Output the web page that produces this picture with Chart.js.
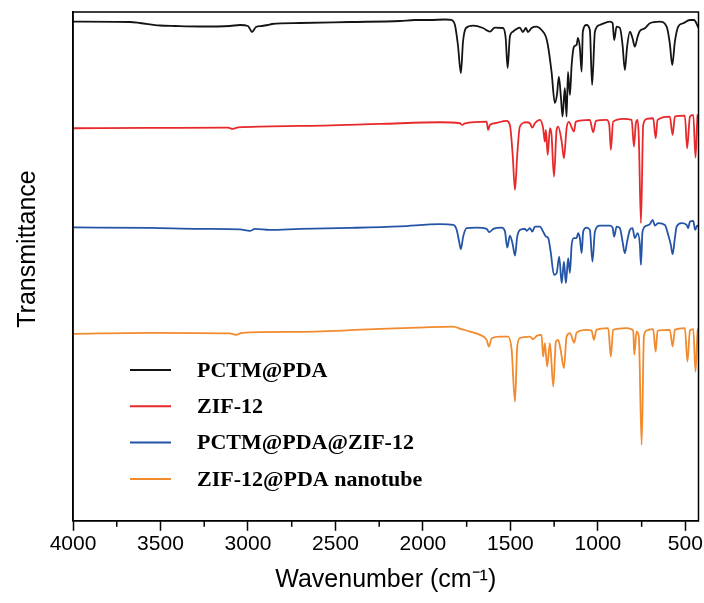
<!DOCTYPE html>
<html>
<head>
<meta charset="utf-8">
<script src="https://cdn.jsdelivr.net/npm/chart.js@4.4.1/dist/chart.umd.min.js"></script>
<style>
    body { margin: 0; background: #fff; }
</style>
</head>
<body>
<canvas id="grafico" width="704" height="603"></canvas>
<script>
// Espectros FTIR: numero de onda (cm-1) y transmitancia (u.a., desplazadas)
const pctmWn = [4000, 3674, 3617, 3503, 3417, 3274, 3103, 3046, 3000, 2977, 2954, 2920, 2886, 2863, 2703, 2417, 2131, 2046, 1960, 1874, 1836, 1817, 1800, 1783, 1771, 1754, 1714, 1657, 1617, 1589, 1543, 1527, 1516, 1503, 1486, 1446, 1429, 1411, 1400, 1379, 1350, 1322, 1297, 1286, 1265, 1246, 1234, 1223, 1211, 1202, 1189, 1179, 1171, 1160, 1150, 1137, 1122, 1114, 1103, 1093, 1086, 1065, 1046, 1033, 1017, 989, 931, 916, 907, 893, 874, 859, 846, 833, 817, 802, 789, 773, 760, 731, 703, 646, 607, 589, 575, 560, 541, 513, 474, 451, 425];
const pctmT = [495.3, 495, 494, 491.5, 491, 490.5, 491, 492, 491, 485, 490, 491, 492, 493, 494, 495, 496, 497, 497, 497.5, 497, 492, 472, 444, 475, 489, 491.3, 489, 485.3, 489.3, 489, 479, 449, 480.3, 485.3, 489.3, 485, 489, 485, 489, 490.3, 487, 480.3, 472, 445.3, 414, 422, 440.3, 419, 400.3, 429, 400.3, 445, 422, 452, 470.3, 472, 479, 469, 445.3, 485.3, 492, 487, 432, 485.3, 492, 495.3, 494, 477, 490.3, 489, 472, 447, 470.3, 485.3, 478.7, 470.3, 480.3, 486, 488.7, 493.7, 495.3, 490.3, 473.7, 452, 475.3, 490.3, 493.7, 497, 497, 489.3];

const zifWn = [4000, 3560, 3114, 3086, 3057, 2703, 2246, 1903, 1789, 1775, 1760, 1636, 1627, 1617, 1589, 1522, 1503, 1487, 1474, 1461, 1446, 1407, 1389, 1375, 1360, 1331, 1313, 1303, 1297, 1287, 1274, 1265, 1251, 1236, 1227, 1207, 1194, 1179, 1166, 1137, 1126, 1046, 1027, 1011, 950, 935, 926, 913, 855, 807, 794, 783, 773, 766, 754, 741, 722, 684, 670, 659, 589, 573, 560, 503, 490, 474, 455, 442, 430, 425];
const zifT = [388.7, 389, 389.3, 388, 389.5, 391, 393, 394.7, 393.7, 392, 393.7, 395.3, 387, 392, 393.7, 396, 392, 362, 327, 362, 390.3, 394.7, 393.7, 389.3, 393.7, 397, 388.7, 375.3, 387, 362, 388.7, 382, 340.3, 387, 390.3, 375.3, 358.7, 388.7, 395, 385.3, 395.3, 397, 384.7, 396, 397, 392, 367, 395.3, 398, 397, 370.3, 393.7, 397, 379, 293.7, 392, 398, 398.7, 378.7, 397, 400.3, 382, 400.3, 401.3, 368.7, 400.3, 402, 359.3, 402, 402.7];

const mezclaWn = [4000, 3560, 3274, 3046, 2989, 2960, 2874, 2703, 2417, 2131, 1903, 1827, 1807, 1793, 1783, 1770, 1750, 1693, 1636, 1621, 1598, 1550, 1531, 1518, 1503, 1487, 1474, 1461, 1446, 1417, 1407, 1389, 1375, 1360, 1331, 1313, 1297, 1284, 1270, 1251, 1236, 1221, 1207, 1194, 1183, 1170, 1160, 1150, 1137, 1122, 1113, 1103, 1093, 1084, 1065, 1046, 1031, 1017, 989, 931, 916, 907, 893, 874, 859, 846, 833, 817, 802, 789, 773, 760, 754, 745, 722, 703, 687, 674, 655, 617, 598, 583, 573, 560, 550, 522, 493, 484, 474, 455, 444, 433, 425];
const mezclaT = [289.5, 289, 288, 287.5, 286, 288, 287, 288, 289, 290.5, 292.7, 292, 287, 275.3, 267.7, 280.3, 288.7, 289.3, 288, 284.7, 288, 289.3, 285.3, 269.3, 281.3, 272.7, 261.3, 280.3, 287, 288, 286, 288.7, 285.3, 290.3, 290.3, 285.3, 280.3, 278.7, 265.3, 242, 243.7, 260.3, 233.7, 255.3, 233.7, 258.7, 244, 272, 278.7, 278.7, 283.7, 278.7, 263.7, 285.3, 289.3, 287, 255.3, 285.3, 291.3, 291.3, 289.3, 280.3, 290.3, 288.7, 275.3, 263.7, 275.3, 287, 288.7, 278.7, 283.7, 272, 252, 285.3, 291.3, 292.7, 297, 291.3, 293.7, 292, 282, 272, 262.7, 278.7, 290.3, 293.7, 292, 288.7, 295.3, 296, 287, 291.3, 290.3];

const tuboWn = [4000, 3560, 3103, 3069, 3034, 2703, 2246, 2017, 1827, 1779, 1731, 1674, 1636, 1623, 1607, 1560, 1513, 1493, 1474, 1461, 1446, 1389, 1370, 1350, 1322, 1313, 1303, 1290, 1274, 1255, 1240, 1227, 1213, 1194, 1179, 1160, 1135, 1122, 1065, 1036, 1023, 1008, 941, 926, 913, 836, 798, 792, 779, 766, 750, 737, 722, 684, 670, 659, 589, 573, 560, 503, 488, 474, 455, 442, 430, 425];
const tuboT = [183, 184, 183.5, 182, 184, 185, 188, 189.3, 190.3, 187.7, 185.3, 182, 177, 170.3, 178.7, 180.3, 180.3, 167, 115.3, 170.3, 178.7, 180.3, 177.7, 181, 182, 160.3, 173.7, 150.3, 173.7, 130.3, 175.3, 177, 167, 148.7, 180.3, 183.7, 174.3, 184.3, 187, 186.3, 177, 187, 188.7, 160.3, 187, 188.7, 186.3, 162, 185.3, 180.3, 72, 180.3, 186.3, 187.7, 165.3, 186.3, 187, 170.3, 187, 188.7, 155.3, 186.3, 187.7, 145.3, 186.3, 188.7];

const nombres = ["PCTM@PDA", "ZIF-12", "PCTM@PDA@ZIF-12", "ZIF-12@PDA nanotube"];
const colores = ["#141414", "#e8292b", "#2454a6", "#f28a2e"];
const ticksMayores = [4000, 3500, 3000, 2500, 2000, 1500, 1000, 500];
const ticksMenores = [3750, 3250, 2750, 2250, 1750, 1250, 750];

function armarPuntos(wn, t) {
    return wn.map((x, i) => ({ x: x, y: t[i] }));
}

const series = [[pctmWn, pctmT], [zifWn, zifT], [mezclaWn, mezclaT], [tuboWn, tuboT]];
const datasets = series.map((s, i) => ({
    label: nombres[i],
    data: armarPuntos(s[0], s[1]),
    borderColor: colores[i],
    backgroundColor: colores[i],
    borderWidth: 1.8,
    pointRadius: 0,
    cubicInterpolationMode: 'monotone',
    fill: false
}));

const fuenteSans = '"Liberation Sans", Arial, sans-serif';

// marco, ticks menores, titulo Y y leyenda dentro del area
const marcoYLeyenda = {
    id: 'marcoYLeyenda',
    afterDraw(chart) {
        const ctx = chart.ctx;
        const area = chart.chartArea;
        const ejeX = chart.scales.x;
        ctx.save();
        ctx.strokeStyle = '#000';
        ctx.lineWidth = 1.5;
        ctx.strokeRect(area.left, area.top, area.right - area.left, area.bottom - area.top);
        ticksMenores.forEach(v => {
            const x = ejeX.getPixelForValue(v);
            ctx.beginPath();
            ctx.moveTo(x, area.bottom);
            ctx.lineTo(x, area.bottom + 6);
            ctx.stroke();
        });

        // titulo del eje Y (un poco por encima del centro, como en la figura)
        ctx.save();
        ctx.translate(28, 249);
        ctx.rotate(-Math.PI / 2);
        ctx.font = '25px ' + fuenteSans;
        ctx.fillStyle = '#000';
        ctx.textAlign = 'center';
        ctx.textBaseline = 'middle';
        ctx.fillText('Transmittance', 0, 0);
        ctx.restore();

        ctx.font = 'bold 22px "Liberation Serif", "Times New Roman", serif';
        ctx.textBaseline = 'middle';
        ctx.fillStyle = '#000';
        chart.data.datasets.forEach((ds, i) => {
            const y = 370 + i * 36.3;
            ctx.strokeStyle = ds.borderColor;
            ctx.lineWidth = 2;
            ctx.beginPath();
            ctx.moveTo(130, y);
            ctx.lineTo(171, y);
            ctx.stroke();
            ctx.fillText(ds.label, 197, y + 1);
        });
        ctx.restore();
    }
};

const config = {
    type: 'line',
    data: { datasets: datasets },
    options: {
        responsive: false,
        animation: false,
        layout: { padding: { left: 73, right: 5, top: 12, bottom: 4 } },
        plugins: {
            legend: { display: false },
            tooltip: { enabled: false }
        },
        scales: {
            x: {
                type: 'linear',
                reverse: true,
                min: 425,
                max: 4000,
                afterBuildTicks: (eje) => {
                    eje.ticks = ticksMayores.map(v => ({ value: v }));
                },
                ticks: {
                    font: { family: fuenteSans, size: 21 },
                    color: '#000',
                    padding: 1,
                    maxRotation: 0,
                    autoSkip: false,
                    callback: (v) => String(v)
                },
                grid: { drawOnChartArea: false, drawTicks: true, tickLength: 10, color: '#000', tickWidth: 1.5 },
                border: { display: true, color: '#000', width: 1.5 },
                title: {
                    display: true,
                    text: 'Wavenumber (cm\u207B\u00B9)',
                    font: { family: fuenteSans, size: 25 },
                    color: '#000',
                    padding: { top: 7, bottom: 4 }
                }
            },
            y: {
                type: 'linear',
                min: -4,
                max: 505,
                ticks: { display: false },
                grid: { display: false, drawTicks: false },
                border: { display: true, color: '#000', width: 1.5 },
                title: { display: false }
            }
        }
    },
    plugins: [marcoYLeyenda]
};

new Chart(document.getElementById('grafico'), config);
</script>
</body>
</html>
